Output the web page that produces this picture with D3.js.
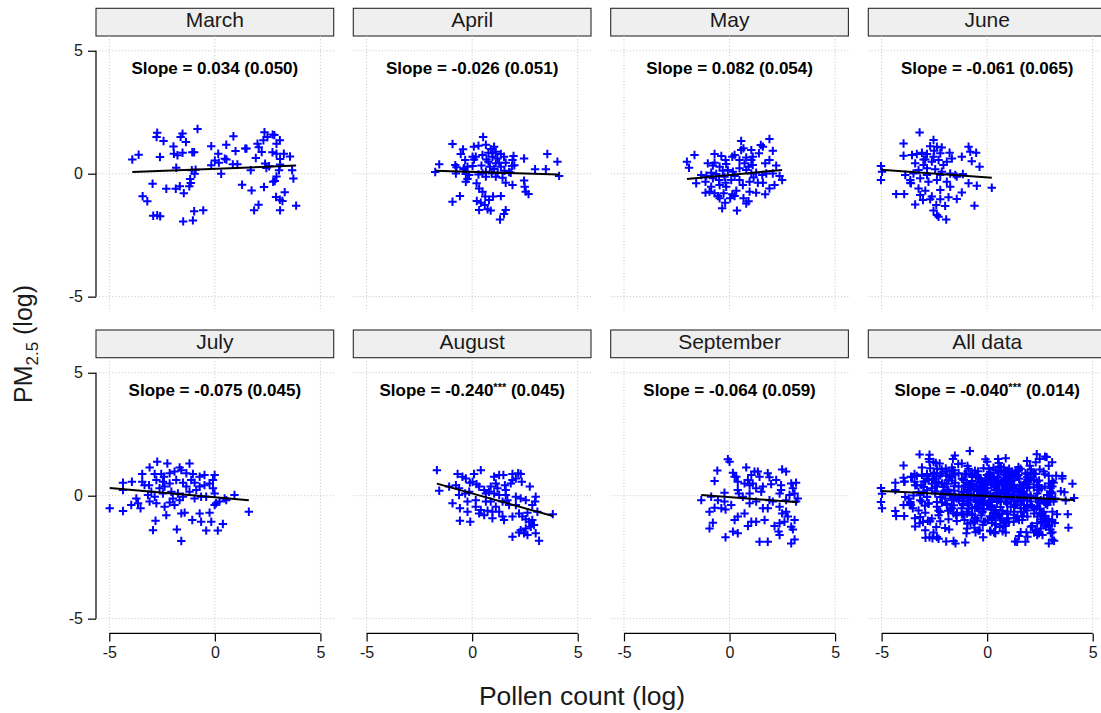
<!DOCTYPE html>
<html>
<head>
<meta charset="utf-8">
<script src="https://cdn.jsdelivr.net/npm/d3@7"></script>
<style>
  html, body { margin: 0; padding: 0; background: #fff; }
  svg { display: block; font-family: Arial, "Liberation Sans", Helvetica, sans-serif; }
</style>
</head>
<body>
<svg id="chart" width="1101" height="713"></svg>
<script>
// ---------------- DATA (pollen count log, PM2.5 log) ----------------
const march = [[-3.91,0.58],[-3.61,0.77],[-2.73,1.67],[-2.76,1.49],[-2.43,1.33],[-2.60,0.68],[-1.96,1.11],[-1.94,0.81],[-1.77,0.75],[-1.53,1.63],[-1.62,1.49],[-1.37,1.29],[-1.53,0.85],[-0.82,1.82],[-1.07,0.87],[-0.98,0.87],[-1.83,0.24],[-1.09,0.14],[-0.91,0.16],[-0.96,0.00],[-1.17,-0.22],[-1.14,-0.38],[-1.21,-0.51],[-1.47,-0.79],[-1.66,-0.51],[-1.85,-0.61],[-2.30,-0.61],[-2.95,-0.41],[-3.42,-0.92],[-3.20,-1.12],[-2.92,-1.71],[-2.73,-1.69],[-2.59,-1.73],[-1.50,-1.94],[-0.98,-1.53],[-0.55,-1.49],[-1.04,-1.90],[-0.17,1.12],[0.16,0.81],[0.00,0.54],[0.19,0.45],[-0.17,0.34],[0.30,0.00],[0.54,1.18],[0.47,0.61],[0.55,0.58],[0.88,1.52],[0.98,0.92],[0.85,0.38],[1.07,0.38],[1.44,1.02],[1.50,1.02],[1.70,0.14],[1.94,0.64],[2.02,1.22],[2.08,1.08],[2.22,0.88],[2.35,1.69],[2.30,1.36],[2.49,1.49],[2.74,1.59],[2.82,1.57],[2.92,1.22],[3.08,1.36],[2.73,0.87],[2.92,0.81],[3.09,0.60],[3.27,0.81],[3.56,0.70],[2.38,0.41],[2.57,0.30],[3.09,0.37],[3.04,0.14],[3.66,0.14],[3.72,-0.20],[2.92,-0.11],[2.84,-0.30],[2.76,-0.33],[2.33,-0.54],[1.74,-0.68],[1.29,-0.45],[3.31,-0.75],[2.90,-0.95],[3.08,-1.06],[3.20,-1.11],[2.07,-1.26],[1.86,-1.49],[3.09,-1.49],[3.85,-1.30],[2.44,0.23]];

const april = [[0.52,1.49],[-0.93,1.21],[0.08,1.10],[0.30,1.14],[0.65,1.18],[-0.43,0.99],[-0.54,0.80],[0.17,0.69],[0.49,0.76],[0.88,1.00],[1.04,1.10],[1.12,0.89],[0.77,0.85],[0.96,0.69],[1.20,0.62],[1.36,0.80],[1.51,0.69],[0.77,0.49],[1.12,0.42],[1.28,0.45],[1.59,0.45],[1.91,0.56],[1.96,0.72],[2.46,0.62],[2.00,0.34],[1.89,0.31],[3.56,0.80],[4.04,0.49],[2.98,0.18],[3.49,0.18],[-1.56,0.38],[-1.75,0.07],[-0.80,0.35],[-0.74,0.26],[-0.38,0.22],[-0.22,0.28],[0.02,0.31],[0.09,0.58],[0.44,0.33],[0.84,0.28],[1.04,0.19],[1.53,0.12],[1.75,0.07],[1.83,0.04],[4.12,-0.09],[-0.77,0.01],[-0.30,-0.01],[-0.22,-0.22],[-0.30,-0.33],[0.30,-0.03],[0.49,0.01],[0.65,-0.12],[1.12,-0.12],[1.44,-0.16],[1.59,-0.37],[1.91,-0.46],[2.46,-0.28],[2.49,-0.53],[2.54,-0.73],[2.67,-0.83],[0.21,-0.39],[0.33,-0.60],[0.49,-0.73],[0.62,-0.93],[0.80,-1.07],[0.99,-0.93],[1.36,-0.91],[0.22,-1.11],[0.41,-1.18],[0.60,-1.27],[0.33,-1.48],[0.73,-1.45],[0.88,-1.50],[1.59,-1.48],[1.51,-1.64],[1.32,-1.86],[-0.93,-1.14],[-0.58,-0.91],[-0.14,-0.05],[0.65,0.08],[0.93,0.01],[1.21,0.04],[1.36,0.28],[0.68,0.58],[0.96,0.83],[0.02,0.69],[-0.33,0.56],[-0.41,0.18]];

const may = [[0.55,1.33],[1.89,1.41],[1.48,1.17],[1.58,1.10],[1.03,0.96],[2.05,0.93],[0.66,1.03],[0.24,0.76],[1.39,0.83],[-0.71,0.80],[-0.39,0.72],[-1.66,0.76],[-2.02,0.49],[-1.92,0.24],[-1.03,0.42],[-0.71,0.45],[-0.79,0.33],[-0.19,0.56],[-0.16,0.39],[-0.47,0.28],[0.13,0.69],[0.47,0.56],[0.79,0.66],[0.71,0.42],[1.03,0.56],[1.10,0.35],[1.69,0.42],[1.89,0.56],[2.21,0.33],[-1.34,-0.05],[-1.14,-0.33],[-1.58,-0.39],[-1.10,-0.08],[-0.87,0.04],[-0.63,-0.01],[-0.32,0.12],[-0.08,0.15],[0.16,0.08],[0.47,0.22],[0.79,0.15],[1.03,0.01],[1.26,0.04],[1.55,-0.05],[1.74,0.01],[2.05,0.01],[2.37,-0.09],[2.49,-0.26],[2.13,-0.46],[1.89,-0.60],[1.69,-0.84],[1.26,-0.77],[0.95,-0.73],[0.66,-1.00],[0.90,-1.12],[0.79,-1.21],[0.35,-1.50],[-0.35,-1.41],[-0.21,-1.18],[-0.47,-1.00],[-0.55,-0.91],[-0.71,-0.80],[-0.95,-0.73],[-1.14,-0.77],[-0.87,-0.53],[-0.47,-0.46],[-0.19,-0.37],[0.08,-0.26],[-0.16,-0.53],[0.13,-0.84],[0.24,-0.91],[0.32,-0.69],[0.63,-0.46],[0.47,-0.26],[0.95,-0.33],[1.14,-0.15],[1.34,-0.37],[1.58,-0.37],[0.24,-0.09],[-0.24,-0.12],[-0.50,-0.26],[-0.79,-0.19],[0.90,0.28],[1.10,0.69],[0.55,0.96],[-0.28,-0.80],[0.03,-1.00]];

const june = [[-3.20,1.68],[-3.96,1.23],[-2.54,1.37],[-2.70,1.12],[-2.38,1.10],[-2.15,1.07],[-2.51,0.93],[-2.85,0.80],[-3.33,0.80],[-3.09,0.85],[-3.56,0.76],[-3.96,0.73],[-2.22,0.83],[-1.78,0.85],[-0.88,1.10],[-0.80,0.89],[-0.52,0.85],[-1.20,0.69],[-1.67,0.62],[-1.91,0.49],[-0.73,0.51],[-0.36,0.28],[-2.54,0.69],[-2.93,0.58],[-3.41,0.42],[-3.01,0.35],[-2.62,0.49],[-2.30,0.56],[-2.07,0.35],[-5.03,0.31],[-4.98,0.08],[-5.03,-0.26],[-3.88,-0.05],[-3.49,0.01],[-3.25,0.15],[-2.85,0.22],[-2.46,0.18],[-2.15,0.08],[-1.75,0.01],[-1.51,-0.05],[-1.15,-0.01],[-3.64,-0.26],[-3.17,-0.19],[-2.78,-0.33],[-2.38,-0.26],[-1.91,-0.33],[-1.44,-0.12],[-0.88,-0.39],[-0.49,-0.49],[0.22,-0.57],[-4.31,-0.83],[-3.93,-0.83],[-3.61,-0.39],[-3.25,-0.60],[-2.93,-0.69],[-2.22,-0.66],[-1.75,-0.53],[-1.20,-0.76],[-1.44,-1.03],[-1.83,-0.96],[-2.22,-1.04],[-2.70,-1.04],[-3.04,-1.07],[-3.41,-1.25],[-2.54,-1.50],[-2.38,-1.68],[-2.30,-1.75],[-1.94,-1.86],[-1.99,-1.31],[-2.41,-1.27],[-0.60,-1.30],[-2.62,-0.93],[-3.17,-0.87],[-3.64,-0.37],[-2.85,-0.05],[-2.22,-0.05],[-3.01,0.58]];

const july = [[-2.73,1.38],[-2.25,1.31],[-1.20,1.31],[-1.67,1.15],[-3.09,1.15],[-3.44,0.88],[-3.93,0.57],[-4.35,0.53],[-4.35,0.23],[-3.44,0.57],[-3.33,0.43],[-3.12,0.43],[-2.85,0.88],[-2.54,0.88],[-2.41,0.77],[-2.14,0.91],[-1.91,0.98],[-1.59,1.04],[-1.35,0.91],[-1.04,0.88],[-0.72,0.77],[-0.49,0.84],[-0.01,0.84],[-2.77,0.64],[-2.46,0.57],[-2.14,0.50],[-1.83,0.64],[-1.51,0.53],[-1.12,0.64],[-0.96,0.53],[-0.72,0.37],[-0.49,0.43],[-0.09,0.64],[-0.09,0.30],[-0.01,0.09],[-3.01,0.16],[-2.85,-0.04],[-2.46,0.09],[-2.06,0.16],[-1.75,0.09],[-1.51,-0.04],[-1.20,0.16],[-0.96,-0.11],[-0.65,-0.04],[-0.41,-0.04],[0.22,-0.24],[0.46,-0.11],[0.93,0.03],[0.54,-0.18],[-4.98,-0.51],[-4.35,-0.62],[-3.96,-0.38],[-3.64,-0.31],[-3.52,-0.51],[-3.09,-0.24],[-2.77,-0.31],[-2.38,-0.45],[-2.14,-0.28],[-1.91,-0.38],[-1.67,-0.18],[-1.59,-0.72],[-1.43,-0.69],[-1.07,-0.99],[-0.72,-0.72],[-0.65,-1.06],[-0.41,-1.42],[-0.25,-0.69],[-0.17,-1.06],[-0.01,-0.38],[0.14,-1.42],[0.38,-1.15],[1.61,-0.65],[-2.81,-1.02],[-2.93,-1.40],[-1.80,-1.37],[-1.59,-1.84],[0.06,-0.31],[-2.30,-0.79],[-2.38,0.37],[-2.62,0.30],[-0.88,0.23],[-1.35,0.37],[-1.99,-0.11],[-3.17,0.03],[-3.72,-0.11],[-0.25,0.50]];

const august = [[-1.67,1.04],[0.41,1.04],[0.09,0.88],[-0.69,0.88],[-0.46,0.77],[-0.30,0.70],[-1.56,0.20],[-1.09,0.37],[-0.77,0.43],[-0.62,0.30],[-0.11,0.53],[0.02,0.57],[0.21,0.47],[0.33,0.37],[1.04,0.77],[1.28,0.84],[1.48,0.84],[1.12,0.50],[1.55,0.43],[1.91,0.88],[2.18,0.91],[2.30,0.88],[2.07,0.70],[1.91,0.64],[1.83,0.50],[2.35,0.57],[2.73,0.37],[3.01,-0.04],[2.98,-0.24],[2.85,-0.38],[2.54,-0.18],[2.30,-0.11],[2.07,-0.04],[1.59,0.03],[1.28,0.03],[1.04,0.09],[0.80,0.16],[0.65,0.09],[0.57,0.23],[-0.14,0.16],[-0.33,0.09],[-0.22,-0.24],[-0.62,0.03],[-0.93,-0.31],[-0.58,-0.51],[-0.22,-0.65],[0.17,-0.45],[0.33,-0.72],[0.57,-0.79],[0.41,-0.58],[0.73,-0.61],[0.96,-0.65],[0.96,-0.92],[1.44,-0.85],[1.51,-0.99],[1.28,-0.65],[1.75,-0.38],[1.91,-0.85],[2.22,-0.72],[2.38,-0.85],[2.54,-0.96],[2.70,-1.06],[2.85,-0.99],[2.93,-1.19],[2.78,-1.26],[2.54,-1.33],[2.30,-1.40],[2.22,-1.50],[2.62,-1.60],[2.46,-1.53],[3.01,-1.53],[1.91,-1.67],[3.17,-1.83],[-0.58,-1.02],[-0.09,-1.06],[3.82,-0.75],[3.09,-0.65],[2.62,-0.69],[2.07,-0.38],[1.67,-0.18],[1.44,-0.24],[1.12,-0.45],[0.88,-0.24],[0.65,-0.24],[0.17,-0.18],[1.59,0.23],[1.20,0.30],[0.88,0.37]];

const september = [[-0.08,1.48],[0.00,1.38],[-0.58,1.02],[-0.71,0.60],[0.16,0.93],[0.32,0.77],[0.79,1.15],[1.03,0.84],[1.18,0.98],[1.34,0.98],[0.87,0.64],[1.10,0.50],[1.42,0.77],[1.81,0.91],[1.89,0.75],[2.21,0.64],[1.97,0.47],[2.49,1.07],[2.68,0.98],[2.44,0.43],[2.92,0.50],[3.15,0.53],[3.00,0.30],[3.08,0.09],[2.84,0.03],[2.37,0.09],[2.44,0.23],[1.58,0.37],[1.50,0.16],[1.26,0.30],[0.95,0.43],[0.71,0.50],[0.39,0.57],[0.24,0.77],[-0.24,0.12],[0.39,0.23],[0.44,0.09],[0.08,-0.38],[-0.24,-0.24],[-1.34,-0.18],[-0.87,-0.04],[-0.55,-0.18],[-0.71,-0.49],[-0.95,-0.65],[-0.39,-0.51],[-0.19,-0.56],[0.24,-0.99],[0.39,-0.85],[0.71,-0.72],[0.95,-0.31],[1.26,-0.24],[1.58,-0.51],[1.81,-0.51],[2.05,-0.24],[2.37,-0.45],[2.49,-0.72],[2.68,-0.65],[2.76,-0.85],[3.08,-0.99],[2.92,-1.26],[3.00,-1.37],[2.60,-1.06],[2.37,-1.12],[2.13,-1.23],[2.37,-1.60],[2.32,-1.46],[1.26,-1.06],[1.03,-1.06],[0.87,-1.23],[1.42,-1.87],[1.81,-1.87],[2.92,-1.94],[3.08,-1.78],[0.16,-1.46],[0.39,-1.53],[-0.19,-1.69],[-0.95,-1.33],[-0.79,-1.10],[1.66,-0.99],[0.63,-0.04],[0.95,0.09],[1.89,-0.18],[2.68,-0.18],[3.15,-0.24],[3.23,-0.11]];

// "All data" panel = pooled observations of every month
const allData = [].concat(march, april, may, june, july, august, september);

const panelNames = ["March", "April", "May", "June", "July", "August", "September", "All data"];
const panelData  = [march, april, may, june, july, august, september, allData];
const slopes     = [0.034, -0.026, 0.082, -0.061, -0.075, -0.240, -0.064, -0.040];
const stdErrors  = [0.050, 0.051, 0.054, 0.065, 0.045, 0.045, 0.059, 0.014];
const stars      = ["", "", "", "", "", "***", "", "***"];
const intercepts = [0.20, 0.07, -0.05, -0.15, -0.06, 0.09, -0.06, -0.01];
const tickValues = [-5, 0, 5];

// ---------------- LAYOUT ----------------
const svg = d3.select("#chart");
const font = 'Arial, "Liberation Sans", Helvetica, sans-serif';
const colLeft = [96, 353.3, 610.7, 868.3];
const panelW = 237.7;
const stripTop = [8.3, 330];
const stripH = 27.7;
const plotTop = [36, 358];
const plotH = 275.4;
const xDomain = [-5.63, 5.63];
const yDomain = [-5.6, 5.6];

const plusPath = "M-4.2,0H4.2M0,-4.2V4.2";

panelData.forEach((pts, i) => {
  const r = Math.floor(i / 4), c = i % 4;
  const left = colLeft[c];
  const top = plotTop[r];
  const x = d3.scaleLinear().domain(xDomain).range([left, left + panelW]);
  const y = d3.scaleLinear().domain(yDomain).range([top + plotH, top]);
  const g = svg.append("g");

  // strip
  g.append("rect")
    .attr("x", left).attr("y", stripTop[r])
    .attr("width", panelW).attr("height", stripH)
    .attr("fill", "#efefef").attr("stroke", "#2b2b2b").attr("stroke-width", 1.1);
  g.append("text")
    .attr("x", left + panelW / 2).attr("y", stripTop[r] + 19)
    .attr("text-anchor", "middle")
    .attr("font-size", 21).attr("fill", "#1a1a1a")
    .text(panelNames[i]);

  // grid
  const grid = g.append("g").attr("stroke", "#c4c4c4").attr("stroke-width", 1)
    .attr("stroke-dasharray", "1,2.2").attr("fill", "none");
  tickValues.forEach(v => {
    grid.append("line").attr("x1", x(v)).attr("x2", x(v)).attr("y1", top).attr("y2", top + plotH);
    grid.append("line").attr("x1", left).attr("x2", left + panelW).attr("y1", y(v)).attr("y2", y(v));
  });

  // points
  g.append("g").selectAll("path").data(pts).join("path")
    .attr("d", plusPath)
    .attr("transform", d => `translate(${x(d[0])},${y(d[1])})`)
    .attr("stroke", "#0000ff").attr("stroke-width", 2).attr("fill", "none");

  // regression line
  const ext = d3.extent(pts, d => d[0]);
  const line = d3.line().x(d => x(d)).y(d => y(intercepts[i] + slopes[i] * d));
  g.append("path").attr("d", line(ext))
    .attr("stroke", "#000").attr("stroke-width", 2).attr("fill", "none");

  // slope label
  const lab = g.append("text")
    .attr("x", x(0)).attr("y", top + 38)
    .attr("text-anchor", "middle").attr("font-weight", "bold")
    .attr("font-size", 17).attr("fill", "#000");
  lab.append("tspan").text("Slope = " + slopes[i].toFixed(3));
  if (stars[i]) lab.append("tspan").attr("dy", -5).attr("font-size", 11).text(stars[i]);
  lab.append("tspan").attr("dy", stars[i] ? 5 : 0).text(" (" + stdErrors[i].toFixed(3) + ")");

  // y axis (left column)
  if (c === 0) {
    const ay = g.append("g").attr("transform", `translate(${left},0)`)
      .call(d3.axisLeft(y).tickValues(tickValues).tickSize(8).tickSizeOuter(0).tickPadding(5)
        .tickFormat(d => String(d)));
    ay.select(".domain").attr("d", `M0,${y(5)}V${y(-5)}`).attr("stroke", "#000").attr("stroke-width", 1.2);
    ay.selectAll(".tick line").attr("stroke", "#000").attr("stroke-width", 1.2);
    ay.selectAll(".tick text").attr("font-size", 16).attr("font-family", font).attr("fill", "#1a1a1a");
  }
  // x axis (bottom row)
  if (r === 1) {
    const ax = g.append("g").attr("transform", `translate(0,${top + plotH})`)
      .call(d3.axisBottom(x).tickValues(tickValues).tickSize(8).tickSizeOuter(0).tickPadding(5)
        .tickFormat(d => String(d)));
    ax.select(".domain").attr("d", `M${x(-5)},0H${x(5)}`).attr("stroke", "#000").attr("stroke-width", 1.2);
    ax.selectAll(".tick line").attr("stroke", "#000").attr("stroke-width", 1.2);
    ax.selectAll(".tick text").attr("font-size", 16).attr("font-family", font).attr("fill", "#1a1a1a");
  }
});

// axis titles
svg.append("text")
  .attr("x", 582).attr("y", 705)
  .attr("text-anchor", "middle").attr("font-size", 26.5).attr("fill", "#1a1a1a")
  .text("Pollen count (log)");

const yt = svg.append("text")
  .attr("transform", "translate(32,344) rotate(-90)")
  .attr("text-anchor", "middle").attr("font-size", 25).attr("fill", "#1a1a1a");
yt.append("tspan").text("PM");
yt.append("tspan").attr("font-size", 17).attr("dy", 6).text("2.5");
yt.append("tspan").attr("dy", -6).text(" (log)");
</script>
</body>
</html>
